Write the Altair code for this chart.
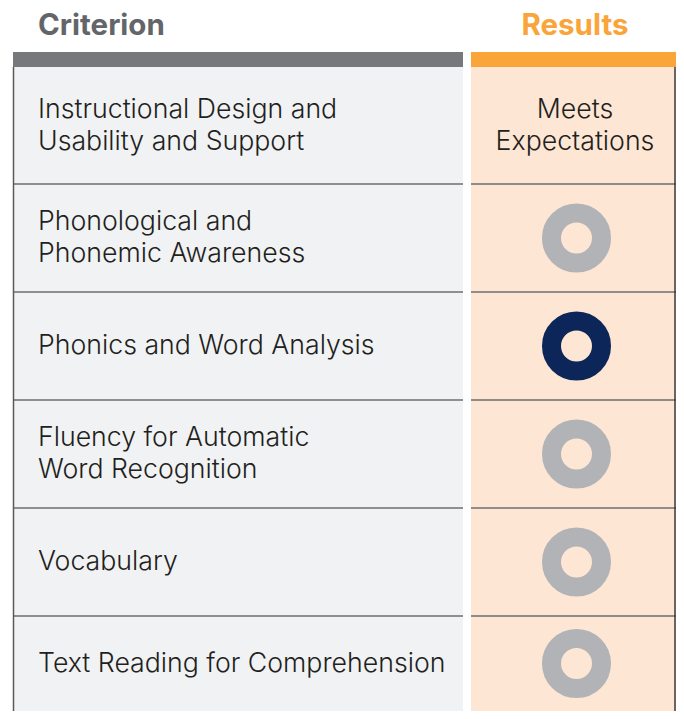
import altair as alt
import pandas as pd

# ---- data ----
criteria = [
    "Instructional Design and\nUsability and Support",
    "Phonological and\nPhonemic Awareness",
    "Phonics and Word Analysis",
    "Fluency for Automatic\nWord Recognition",
    "Vocabulary",
    "Text Reading for Comprehension",
]
result_text = ["Meets\nExpectations", "", "", "", "", ""]
ring_status = ["", "Not Met", "Met", "Not Met", "Not Met", "Not Met"]
header_labels = ["Criterion", "Results"]

# ---- layout (chart pixel units) ----
W, H = 668, 703
left_x0, left_x1 = 5, 455
right_x0, right_x1 = 463, 668
bar_y0, bar_y1 = 44, 59
row_heights = [117, 108, 108, 108, 108, H - 59 - 117 - 108 * 4]
text_x = 30
result_x = 567
ring_x = 568.5
LH = 32
FS = 26.7
HFS = 29.5

tops = []
y = bar_y1
for h in row_heights:
    tops.append(y)
    y += h

rows = pd.DataFrame({
    "criterion": criteria,
    "result": result_text,
    "status": ring_status,
    "y0": tops,
    "y1": [t + h for t, h in zip(tops, row_heights)],
})
rows["yc"] = (rows["y0"] + rows["y1"]) / 2

xs = alt.Scale(domain=[0, W], nice=False, zero=False)
ys = alt.Scale(domain=[0, H], nice=False, zero=False, reverse=True)

def X(f):
    return alt.X(f, type="quantitative", scale=xs, axis=None)

def Y(f):
    return alt.Y(f, type="quantitative", scale=ys, axis=None)

base = alt.Chart(rows)

left_cells = base.mark_rect(color="#f1f2f4").encode(
    x=alt.value(left_x0), x2=alt.value(left_x1), y=Y("y0"), y2=alt.Y2("y1"))
right_cells = base.mark_rect(color="#fde6d4").encode(
    x=alt.value(right_x0), x2=alt.value(right_x1), y=Y("y0"), y2=alt.Y2("y1"))

hdr = pd.DataFrame({
    "label": header_labels,
    "x0": [left_x0, right_x0],
    "x1": [left_x1, right_x1],
    "tx": [text_x, result_x],
    "col": ["#77787b", "#f9a53a"],
})
bars = alt.Chart(hdr).mark_rect().encode(
    x=X("x0"), x2=alt.X2("x1"),
    y=alt.value(bar_y0), y2=alt.value(bar_y1),
    color=alt.Color("col:N", scale=None))
hdr_left = alt.Chart(hdr.iloc[[0]]).mark_text(
    align="left", baseline="middle", font="Inter", fontWeight="bold",
    fontSize=HFS, color="#646569").encode(
    x=X("tx"), y=alt.value(18), text="label:N")
hdr_right = alt.Chart(hdr.iloc[[1]]).mark_text(
    align="center", baseline="middle", font="Inter", fontWeight="bold",
    fontSize=HFS, color="#f9a53a").encode(
    x=X("tx"), y=alt.value(18), text="label:N")

seps = pd.DataFrame({"y": tops[1:]})
sep_left = alt.Chart(seps).mark_rule(color="#6d6e71", strokeWidth=1.5).encode(
    x=alt.value(left_x0), x2=alt.value(left_x1), y=Y("y"))
sep_right = alt.Chart(seps).mark_rule(color="#6d6e71", strokeWidth=1.5).encode(
    x=alt.value(right_x0), x2=alt.value(right_x1), y=Y("y"))

border_left = base.mark_rule(color="#58595b", strokeWidth=1.5).encode(
    x=alt.value(left_x0 + 0.5), y=Y("y0"), y2=alt.Y2("y1"))
border_right = base.mark_rule(color="#3a3a3c", strokeWidth=1.5).encode(
    x=alt.value(right_x1 - 1), y=Y("y0"), y2=alt.Y2("y1"))

crit_text = base.transform_calculate(
    ty=f"datum.yc - (length(split(datum.criterion, '\\n')) - 1) * {LH} / 2"
).mark_text(
    align="left", baseline="middle", font="Inter", fontSize=FS, fontWeight=300,
    lineBreak="\n", lineHeight=LH, color="#231f20").encode(
    x=alt.value(text_x), y=Y("ty"), text="criterion:N")

res_text = base.transform_filter("datum.result != ''").transform_calculate(
    ty=f"datum.yc - (length(split(datum.result, '\\n')) - 1) * {LH} / 2"
).mark_text(
    align="center", baseline="middle", font="Inter", fontSize=FS, fontWeight=300,
    lineBreak="\n", lineHeight=LH, color="#231f20").encode(
    x=alt.value(result_x), y=Y("ty"), text="result:N")

rings = base.transform_filter("datum.status != ''").mark_point(
    shape="circle", filled=False, size=2500, strokeWidth=19, opacity=1).encode(
    x=alt.value(ring_x), y=Y("yc"),
    color=alt.Color("status:N", scale=alt.Scale(
        domain=["Not Met", "Met"], range=["#b1b3b6", "#0c2659"]), legend=None))

chart = alt.layer(
    left_cells, right_cells, bars, sep_left, sep_right,
    border_left, border_right, crit_text, res_text, rings,
    hdr_left, hdr_right,
).properties(
    width=W, height=H, padding=0, autosize="none"
).configure_view(stroke=None)

chart.save("out.html", embed_options={"renderer": "svg", "actions": False})
